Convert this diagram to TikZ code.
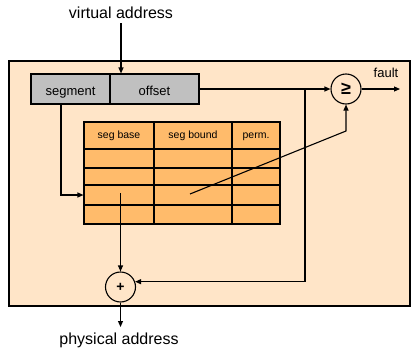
\documentclass[tikz,border=0pt]{standalone}
\usepackage{fontspec}
\setmainfont{Liberation Sans}
\usetikzlibrary{arrows.meta}
\definecolor{peach}{HTML}{FFE5C8}
\definecolor{orangecell}{HTML}{FFBB6B}
\definecolor{grayfield}{HTML}{C0C0C0}
\begin{document}
\begin{tikzpicture}[x=1pt,y=-1pt,
  wire/.style={line width=1.1pt,draw=black},
  arr/.style={wire,-{Triangle[length=6pt,width=5pt]}},
  bigtext/.style={font=\fontsize{16}{18}\selectfont,inner sep=0pt},
  midtext/.style={font=\fontsize{13}{15}\selectfont,inner sep=0pt},
  field/.style={draw,line width=1.1pt,fill=grayfield,inner sep=0pt,minimum height=30pt,text height=12pt,text depth=0pt,font=\fontsize{13}{15}\selectfont},
  cell/.style={draw,line width=1.1pt,fill=orangecell,inner sep=0pt,text height=6.4pt,text depth=0pt,font=\fontsize{10.5}{12}\selectfont},
  op/.style={draw,line width=1.1pt,circle,inner sep=0pt}]
\useasboundingbox (0,0) rectangle (418,359);
% outer box
\node[draw,line width=1.1pt,fill=peach,inner sep=0pt,minimum width=401pt,minimum height=245pt] (outer) at (209.5,183.5) {};
% labels outside
\node[bigtext] (va) at (121,13) {virtual address};
\node[bigtext] (pa) at (119,340) {physical address};
% segment / offset
\node[field,minimum width=79pt] (seg) at (70.5,89) {segment};
\node[field,minimum width=89pt] (off) at (154.5,89) {offset};
% operators
\node[op,minimum size=30pt,font=\fontsize{18}{20}\selectfont\bfseries] (cmp) at (346,89) {≥};
\node[op,minimum size=30pt,font=\fontsize{14}{16}\selectfont\bfseries] (plus) at (120.5,287) {+};
\node[midtext] (fault) at (386,73) {fault};
\coordinate (faultend) at (400,89);
% table: columns 84-154-232-280 ; rows 122-149-168-185-205-224
\node[cell,minimum width=70pt,minimum height=27pt] (h1) at (119,135.5) {seg base};
\node[cell,minimum width=78pt,minimum height=27pt] (h2) at (193,135.5) {seg bound};
\node[cell,minimum width=48pt,minimum height=27pt] (h3) at (256,135.5) {perm.};
\foreach \r/\yc/\hh in {2/158.5/19,3/176.5/17,4/195/20,5/214.5/19}{
  \node[cell,minimum width=70pt,minimum height=\hh pt] (c\r1) at (119,\yc) {};
  \node[cell,minimum width=78pt,minimum height=\hh pt] (c\r2) at (193,\yc) {};
  \node[cell,minimum width=48pt,minimum height=\hh pt] (c\r3) at (256,\yc) {};
}
\draw[line width=1.8pt] (h1.south west) -- (h3.south east);
\draw[line width=1.8pt] (c51.north west) -- (c53.north east);
\draw[line width=1.3pt] (h1.north west) rectangle (c53.south east);
% connectors
\draw[arr] (va.south) ++(0,4) -- (va.south |- off.north);
\draw[arr] (off.east) -- (cmp.west);
\coordinate (junction) at (305,89);
\draw[arr] (junction) |- (plus.20);
\draw[arr] (cmp.east) -- (faultend);
\draw[arr] ([xshift=-9.5pt]seg.south) |- (c41.west);
\coordinate (bend) at (346,131);
\draw[arr] ([xshift=-3pt,yshift=1pt]c42.center) -- (bend) -- (cmp.south);
\draw[arr] ([yshift=2pt]c41.center -| plus) -- (plus.north);
\coordinate (paend) at (120.5,327);
\draw[arr] (plus.south) -- (paend);
\end{tikzpicture}
\end{document}
